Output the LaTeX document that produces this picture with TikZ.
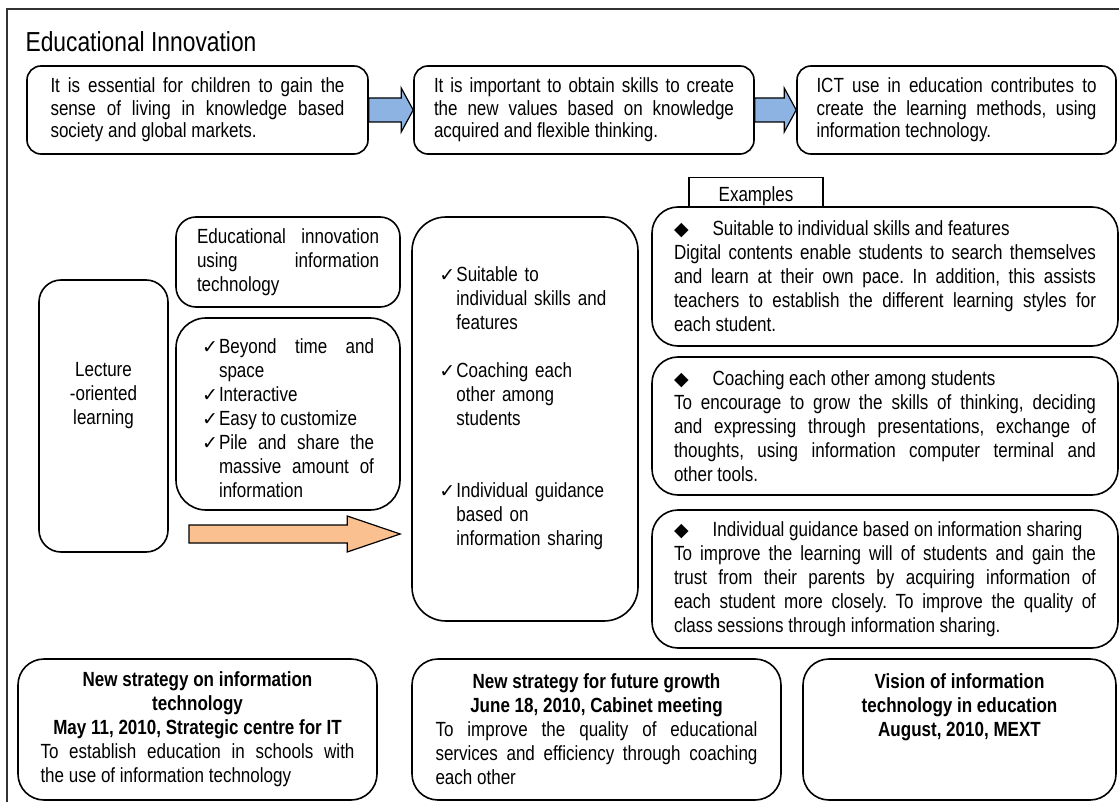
\documentclass[tikz,border=0pt]{standalone}
\usepackage{fontspec}
\setmainfont{Liberation Sans}[FakeStretch=0.83]
\newfontfamily\dejavu{DejaVu Sans}
\usetikzlibrary{calc}
\definecolor{arrow-blue}{HTML}{8DB3E2}
\definecolor{arrow-orange}{HTML}{FAC090}
\frenchspacing
\newcommand{\chkitem}[1]{\par\noindent\hangindent=17pt\hangafter=1%
  \makebox[17pt][l]{\dejavu\fontsize{19}{19}\selectfont ✓}#1\par}
\newcommand{\dmd}{{\dejavu\fontsize{19}{19}\selectfont ◆}\hspace{24pt}}

\begin{document}
\begin{tikzpicture}[x=1pt, y=-1pt,
        every node/.style={font=\fontsize{20.5}{24}\selectfont},
        rbox/.style={draw, line width=1.6pt, fill=white, rounded corners=#1, inner sep=0pt},
        rbox/.default=20pt,
        blockarrow/.style={draw, line width=1.2pt, line join=miter}]
      \useasboundingbox (0,0) rectangle (1119,802);
      \draw[line width=2pt, black!80] (7,802) -- (7,9) -- (1119,9);
      \node[anchor=west, font=\fontsize{27.5}{30}\selectfont] (title) at (22,42) {Educational Innovation};
      % top row
      \node[rbox=14pt, minimum width=341pt, minimum height=88pt, text width=294pt, align=justify,
            font=\fontsize{20.5}{22.5}\selectfont]
            (essential) at (197.5,110) {It is essential for children to gain the\linebreak
            sense of living in knowledge based\linebreak society and global markets.};
      \node[rbox=14pt, minimum width=340pt, minimum height=88pt, text width=300pt, align=justify,
            font=\fontsize{20.5}{22.5}\selectfont]
            (skills) at (584,110) {It is important to obtain skills to create\linebreak
            the new values based on knowledge\linebreak acquired and flexible thinking.};
      \node[rbox=14pt, minimum width=319pt, minimum height=88pt, text width=280pt, align=justify,
            font=\fontsize{20.5}{22.5}\selectfont]
            (ict) at (956.5,110) {ICT use in education contributes to\linebreak
            create the learning methods, using\linebreak information technology.};
      \draw[blockarrow, fill=arrow-blue] ($(essential.east)+(0,-12)$) -- ($(skills.west)+(-12,-12)$)
            -- ($(skills.west)+(-12,-22)$) -- (skills.west) -- ($(skills.west)+(-12,22)$)
            -- ($(skills.west)+(-12,12)$) -- ($(essential.east)+(0,12)$) -- cycle;
      \draw[blockarrow, fill=arrow-blue] ($(skills.east)+(0,-12)$) -- ($(ict.west)+(-12,-12)$)
            -- ($(ict.west)+(-12,-22)$) -- (ict.west) -- ($(ict.west)+(-12,22)$)
            -- ($(ict.west)+(-12,12)$) -- ($(skills.east)+(0,12)$) -- cycle;
      % left part
      \node[rbox=22pt, minimum width=129pt, minimum height=272pt] (lecture) at (103.5,416) {};
      \node[align=center] (lecturetxt) at ([yshift=20pt]lecture.center) {Lecture\\-oriented\\learning};
      \node[rbox=20pt, minimum width=224pt, minimum height=90pt, text width=182pt, align=justify]
            (innov) at (288,262) {Educational innovation\linebreak using information\linebreak technology};
      \node[rbox=30pt, minimum width=224pt, minimum height=192pt, text width=172pt, align=justify]
            (merits) at (288,414) {\chkitem{Beyond time and\linebreak space}\chkitem{Interactive}%
            \chkitem{Easy to customize}\chkitem{Pile and share the\linebreak massive amount of\linebreak information}};
      \node[rbox=34pt, minimum width=226pt, minimum height=404pt] (method) at (525,419) {};
      \node[anchor=north west, text width=172pt, align=left, inner sep=0pt]
            (methodtxt) at ([shift={(28,41)}]method.north west)
            {\chkitem{Suitable to\newline individual skills and\newline features}\vspace{24pt}%
             \chkitem{Coaching each\newline other among\newline students}\vspace{48pt}%
             \chkitem{Individual guidance\newline based on\newline information sharing}};
      \coordinate (tail) at (189,534);
      \draw[blockarrow, fill=arrow-orange] ($(tail)+(0,-9)$) -- ($(method.west |- tail)+(-64,-9)$)
            -- ($(method.west |- tail)+(-64,-18)$) -- ($(method.west |- tail)+(-11,0)$)
            -- ($(method.west |- tail)+(-64,18)$) -- ($(method.west |- tail)+(-64,9)$)
            -- ($(tail)+(0,9)$) -- cycle;
      % examples
      \node[draw, line width=1.2pt, minimum width=134pt, minimum height=38pt, anchor=north, inner sep=0pt]
            (examples) at (756,177) {\raisebox{-6pt}{Examples}};
      \node[rbox=26pt, minimum width=466pt, minimum height=139pt, text width=422pt, align=justify]
            (suit) at (885,276.5) {\dmd Suitable to individual skills and features\par
            Digital contents enable students to search themselves\linebreak and learn at their own pace.
            In addition, this assists\linebreak teachers to establish the different learning styles for\linebreak
            each student.};
      \node[rbox=26pt, minimum width=466pt, minimum height=138pt, text width=422pt, align=justify]
            (coach) at (885,426) {\dmd Coaching each other among students\par
            To encourage to grow the skills of thinking, deciding\linebreak and expressing through
            presentations, exchange of\linebreak thoughts, using information computer terminal and\linebreak
            other tools.};
      \node[rbox=26pt, minimum width=466pt, minimum height=138pt, text width=422pt, align=justify]
            (guide) at (885,579) {\dmd Individual guidance based on information sharing\par
            To improve the learning will of students and gain the\linebreak trust from their parents by
            acquiring information of\linebreak each student more closely. To improve the quality of\linebreak
            class sessions through information sharing.};
      % bottom row
      \node[rbox=26pt, minimum width=359pt, minimum height=141pt, text width=314pt, align=justify]
            (itstrat) at (197.5,729.5) {{\centering\bfseries New strategy on information\\technology\\
            May 11, 2010, Strategic centre for IT\par}To establish education in schools with\linebreak
            the use of information technology};
      \node[rbox=26pt, minimum width=369pt, minimum height=141pt, text width=322pt, align=justify]
            (growth) at (596.5,729.5) {{\centering\bfseries New strategy for future growth\\
            June 18, 2010, Cabinet meeting\par}To improve the quality of educational\linebreak
            services and efficiency through coaching\linebreak each other};
      \node[rbox=26pt, minimum width=313pt, minimum height=141pt] (vision) at (959.5,729.5) {};
      \node[anchor=north, align=center, inner sep=0pt, font=\fontsize{20.5}{24}\selectfont\bfseries]
            (visiontxt) at ([yshift=-15pt]vision.north) {Vision of information\\technology in education\\
            August, 2010, MEXT};
    \end{tikzpicture}
\end{document}
